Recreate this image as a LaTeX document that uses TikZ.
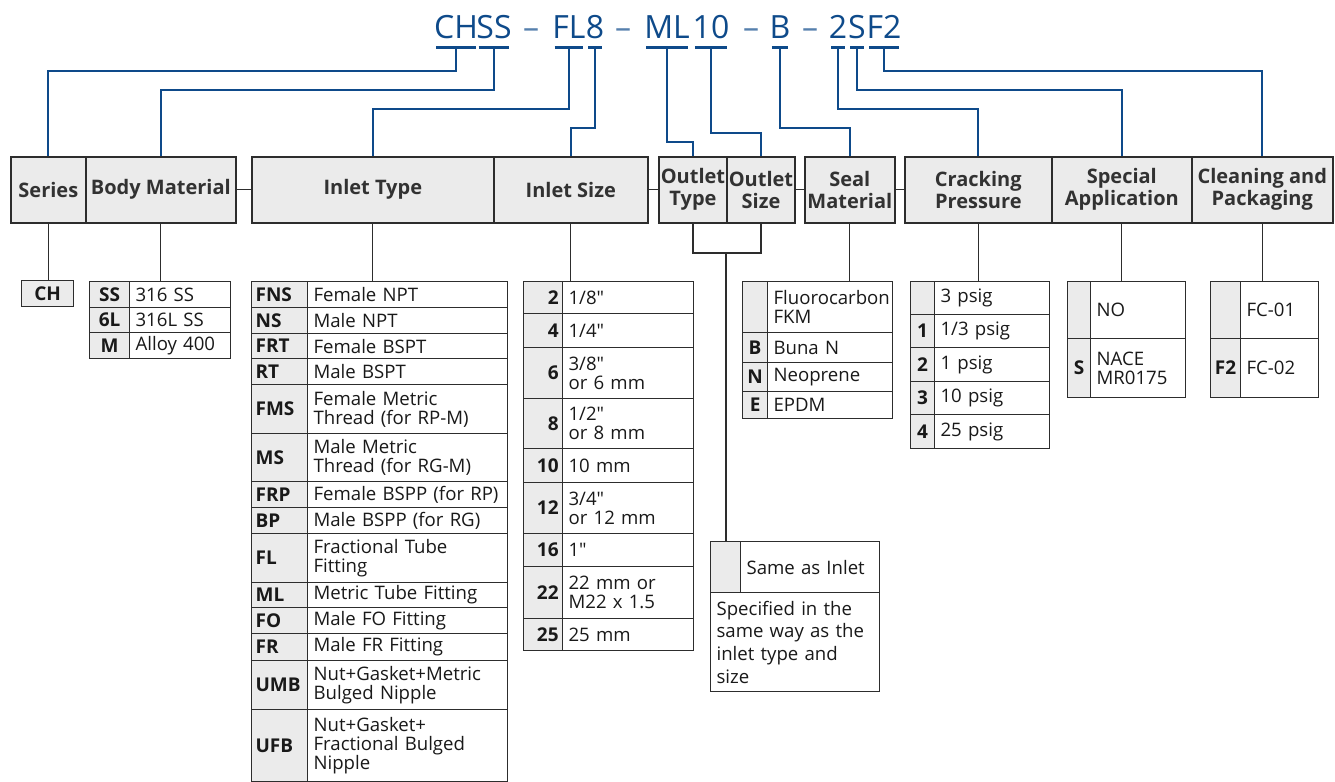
\documentclass[tikz,border=0pt]{standalone}
\usepackage{fontspec}
\setmainfont{Open Sans}[Ligatures=TeXOff]
\usepackage{tikz}

\definecolor{codeblue}{RGB}{14,74,138}
\definecolor{cellgray}{RGB}{235,235,235}
\definecolor{rulegray}{RGB}{45,45,45}
\definecolor{headtext}{RGB}{50,50,50}
\definecolor{bodytext}{RGB}{25,25,25}

\tikzset{
  hdr/.style={draw=rulegray, line width=0.8pt, fill=cellgray, text=headtext,
    font=\fontsize{10}{11}\selectfont\bfseries, align=center, anchor=north west,
    inner sep=1pt, minimum height=33pt, minimum width=#1*0.5pt},
  codecell/.style={draw=rulegray, line width=0.6pt, fill=cellgray, text=bodytext,
    font=\fontsize{9.5}{10}\selectfont\bfseries, anchor=north west, inner xsep=2pt, inner ysep=1pt},
  desccell/.style={draw=rulegray, line width=0.6pt, fill=white, text=bodytext,
    font=\fontsize{9.3}{9.6}\selectfont, align=left, anchor=north west, inner xsep=3pt, inner ysep=1pt},
  codetext/.style={text=codeblue, font=\fontsize{16}{16}\selectfont, anchor=base,
    inner xsep=-1.3pt, inner ysep=4.5pt},
  ulbar/.style={draw=codeblue, line width=1.6pt},
  codeline/.style={draw=codeblue, line width=1pt},
  link/.style={draw=rulegray, line width=0.6pt},
}

% one option table: name, x left, x divider, x right, code align, y top, rows code/text/height
\newcommand{\optable}[7]{%
  \pgfmathsetmacro\ctw{(#3-#2)*0.5-4}
  \pgfmathsetmacro\dtw{(#4-#3)*0.5-6}
  \foreach \code/\desc/\h [count=\i, remember=\ybot as \ytop (initially #6),
      evaluate=\h as \ybot using \ytop+\h] in {#7} {
    \node[codecell, align=#5, text width=\ctw pt, minimum height=\h*0.5pt] (#1-c\i) at (#2,\ytop) {\code};
    \node[desccell, text width=\dtw pt, minimum height=\h*0.5pt] (#1-d\i) at (#3,\ytop) {\desc};
  }
}

\begin{document}
\begin{tikzpicture}[x=0.5pt, y=-0.5pt]
\useasboundingbox (0,0) rectangle (1335,782);

% ordering code
\node[codetext] (t-ch) at (456,38) {CH};
\node[codetext] (t-ss) at (494,38) {SS};
\node[codetext, text=codeblue!70] (dash1) at (531,38) {–};
\node[codetext] (t-fl) at (569,38) {FL};
\node[codetext] (t-8) at (595,38) {8};
\node[codetext, text=codeblue!70] (dash2) at (623,38) {–};
\node[codetext] (t-ml) at (667,38) {ML};
\node[codetext] (t-10) at (711,38) {10};
\node[codetext, text=codeblue!70] (dash3) at (751,38) {–};
\node[codetext] (t-b) at (780,38) {B};
\node[codetext, text=codeblue!70] (dash4) at (810,38) {–};
\node[codetext] (t-2) at (838,38) {2};
\node[codetext] (t-s) at (857,38) {S};
\node[codetext] (t-f2) at (884,38) {F2};
\foreach \t in {ch,ss,fl,8,ml,10,b,2,s,f2}
  \draw[ulbar] (t-\t.south west) -- (t-\t.south east);

% header boxes
\node[hdr=75] (series) at (10,156) {Series};
\node[hdr=150] (bodymat) at (85,156) {Body Material};
\node[hdr=242] (inlettype) at (251,156) {Inlet Type};
\node[hdr=154] (inletsize) at (493,156) {Inlet Size};
\node[hdr=68] (outtype) at (658,156) {Outlet\\Type};
\node[hdr=67] (outsize) at (726,156) {Outlet\\Size};
\node[hdr=90] (sealmat) at (804,156) {Seal\\Material};
\node[hdr=147] (crackp) at (904,156) {Cracking\\Pressure};
\node[hdr=140] (specapp) at (1051,156) {Special\\Application};
\node[hdr=141] (cleanpk) at (1191,156) {Cleaning and\\Packaging};

\draw[link] (bodymat.east) -- (inlettype.west);
\draw[link] (inletsize.east) -- (outtype.west);
\draw[link] (outsize.east) -- (sealmat.west);
\draw[link] (sealmat.east) -- (crackp.west);

% code letters to headers
\draw[codeline] (series.north) -- (series.north |- 0,71) -| (t-ch.south);
\draw[codeline] (bodymat.north) -- (bodymat.north |- 0,90) -| (t-ss.south);
\draw[codeline] (inlettype.north) -- (inlettype.north |- 0,109) -| (t-fl.south);
\draw[codeline] (inletsize.north) -- (inletsize.north |- 0,128) -| (t-8.south);
\draw[codeline] (outtype.north) -- (outtype.north |- 0,142) -| (t-ml.south);
\draw[codeline] (outsize.north) -- (outsize.north |- 0,133) -| (t-10.south);
\draw[codeline] (sealmat.north) -- (sealmat.north |- 0,128) -| (t-b.south);
\draw[codeline] (crackp.north) -- (crackp.north |- 0,109) -| (t-2.south);
\draw[codeline] (specapp.north) -- (specapp.north |- 0,90) -| (t-s.south);
\draw[codeline] (cleanpk.north) -- (cleanpk.north |- 0,71) -| (t-f2.south);

% option tables
\node[codecell, align=center, minimum width=26pt, minimum height=13pt] (ch) at (21,280) {CH};
\optable{bm}{89}{129}{230}{center}{281}{SS/316 SS/26, 6L/316L SS/25, M/Alloy 400/26}
\optable{it}{251}{307}{507}{left}{281}{FNS/Female NPT/26, NS/Male NPT/26, FRT/Female BSPT/25,
  RT/Male BSPT/26, FMS/{Female Metric\\Thread (for RP-M)}/49, MS/{Male Metric\\Thread (for RG-M)}/48,
  FRP/Female BSPP (for RP)/26, BP/Male BSPP (for RG)/26, FL/{Fractional Tube\\Fitting}/49,
  ML/Metric Tube Fitting/25, FO/Male FO Fitting/26, FR/Male FR Fitting/27,
  UMB/{Nut+Gasket+Metric\\Bulged Nipple}/49, UFB/{Nut+Gasket+\\Fractional Bulged\\Nipple}/72}
\optable{is}{523}{562}{693}{right}{281}{2/{1/8"}/32, 4/{1/4"}/34, 6/{3/8"\\or 6 mm}/51,
  8/{1/2"\\or 8 mm}/50, 10/10 mm/34, 12/{3/4"\\or 12 mm}/51, 16/1"/33,
  22/{22 mm or\\M22 x 1.5}/52, 25/25 mm/32}
\optable{sm}{742}{767}{892}{center}{281}{{}/{Fluorocarbon\\FKM}/51, B/Buna N/30, N/Neoprene/29, E/EPDM/27}
\optable{cp}{910}{934}{1049}{center}{281}{{}/3 psig/33, 1/{1/3 psig}/33, 2/1 psig/34, 3/10 psig/33, 4/25 psig/34}
\optable{sa}{1067}{1090}{1185}{center}{281}{{}/NO/57, S/{NACE\\MR0175}/59}
\optable{cl}{1210}{1240}{1318}{center}{281}{{}/FC-01/57, F2/FC-02/59}
\optable{oi}{710}{740}{879}{center}{541}{{}/Same as Inlet/51}
\node[desccell, text width=78.5pt, minimum height=49.5pt, font=\fontsize{9.3}{11.3}\selectfont]
  (oi-note) at (710,592) {Specified in the\\same way as the\\inlet type and\\size};

% drop lines
\draw[link] (series.south) -- (series.south |- ch.north);
\draw[link] (bodymat.south) -- (bodymat.south |- bm-c1.north);
\draw[link] (inlettype.south) -- (inlettype.south |- it-c1.north);
\draw[link] (inletsize.south) -- (inletsize.south |- is-c1.north);
\draw[link] (sealmat.south) -- (sealmat.south |- sm-c1.north);
\draw[link] (crackp.south) -- (crackp.south |- cp-c1.north);
\draw[link] (specapp.south) -- (specapp.south |- sa-c1.north);
\draw[link] (cleanpk.south) -- (cleanpk.south |- cl-c1.north);
\coordinate (outjoin) at (726,253);
\draw[link] (outtype.south) |- (outjoin) -| (outsize.south);
\draw[link] (outjoin) -- (outjoin |- oi-c1.north);
\end{tikzpicture}
\end{document}
